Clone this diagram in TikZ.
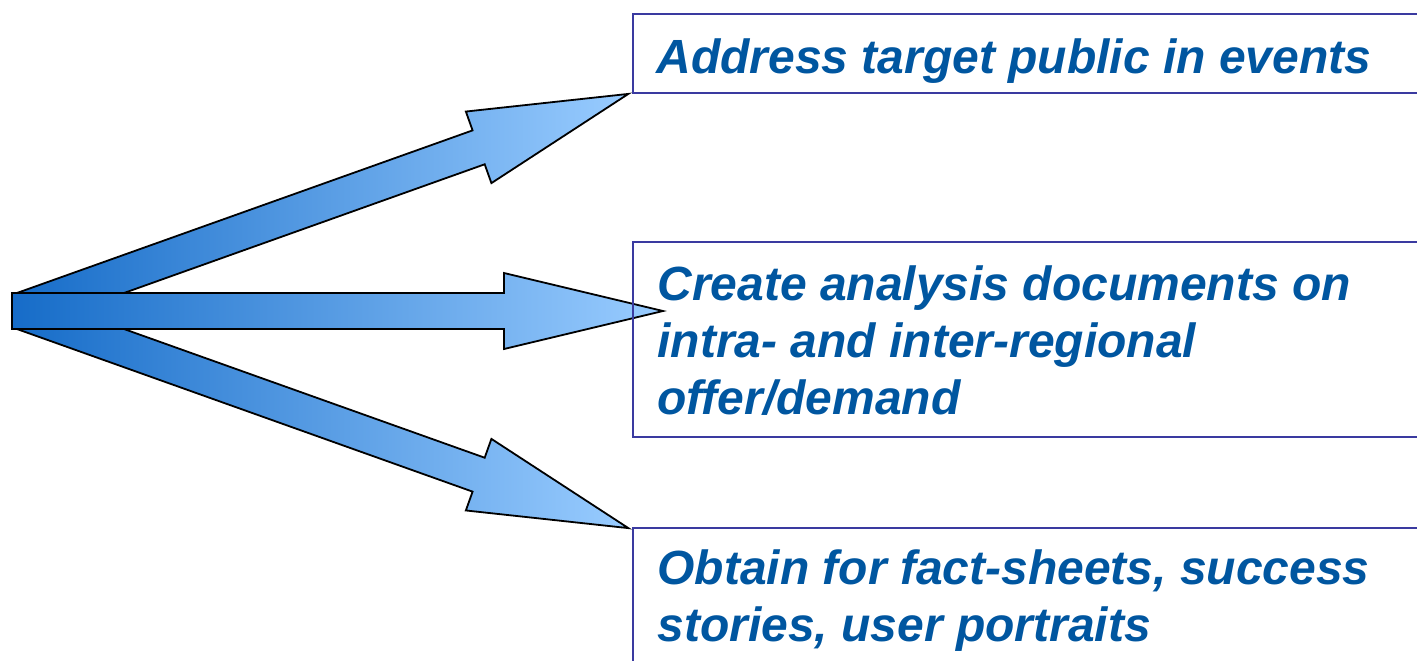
\documentclass[tikz,border=0pt]{standalone}
\usepackage{fontspec}
\setmainfont{Liberation Sans}
\usetikzlibrary{calc}
\definecolor{arrowDark}{RGB}{22,108,200}
\definecolor{arrowLight}{RGB}{153,204,255}
\definecolor{boxBlue}{RGB}{58,58,160}
\definecolor{textBlue}{RGB}{0,86,160}
\def\drawBlockArrow#1{
\coordinate (S1) at (0,-18);
\coordinate (S2) at ({#1-159},-18);
\coordinate (H1) at ({#1-159},-38);
\coordinate (T) at (#1,0);
\coordinate (H2) at ({#1-159},38);
\coordinate (S3) at ({#1-159},18);
\coordinate (S4) at (0,18);
\draw[line width=0.9pt, line join=miter, left color=arrowDark, right color=arrowLight]
  (S1) -- (S2) -- (H1) -- (T) -- (H2) -- (S3) -- (S4) -- cycle;
}
\tikzset{
  box/.style={draw=boxBlue, line width=0.9pt, anchor=north west, minimum width=420pt},
  boxtext/.style={text=textBlue, font=\fontsize{24}{28.5}\selectfont\bfseries\itshape, align=left, anchor=base west, inner sep=0pt}
}

\begin{document}
\begin{tikzpicture}[x=0.5pt, y=-0.5pt]
	\useasboundingbox (0,0) rectangle (1417,660);
	\clip (0,0) rectangle (1417,660);
	\coordinate (O) at (12,311);
	\coordinate (Od) at (20,311);
	\begin{scope}[shift={(Od)}, rotate=19.64]
	\drawBlockArrow{646}
	\end{scope}
	\begin{scope}[shift={(Od)}, rotate=-19.64]
	\drawBlockArrow{646}
	\end{scope}
	\begin{scope}[shift={(O)}]
	\drawBlockArrow{651}
	\end{scope}
	\node[box, minimum height=39.5pt] (B1) at (632,13) {};
	\node[box, minimum height=97.5pt] (B2) at (632,241) {};
	\node[box, minimum height=80pt] (B3) at (632,527) {};
	\node[boxtext] (L1) at ($(B1.north west)+(24,60)$) {Address target public in events};
	\node[boxtext] (L2) at ($(B2.north west)+(25,173)$) {Create analysis documents on\\intra- and inter-regional\\offer/demand};
	\node[boxtext] (L3) at ($(B3.north west)+(25,114)$) {Obtain for fact-sheets, success\\stories, user portraits};
\end{tikzpicture}
\end{document}
